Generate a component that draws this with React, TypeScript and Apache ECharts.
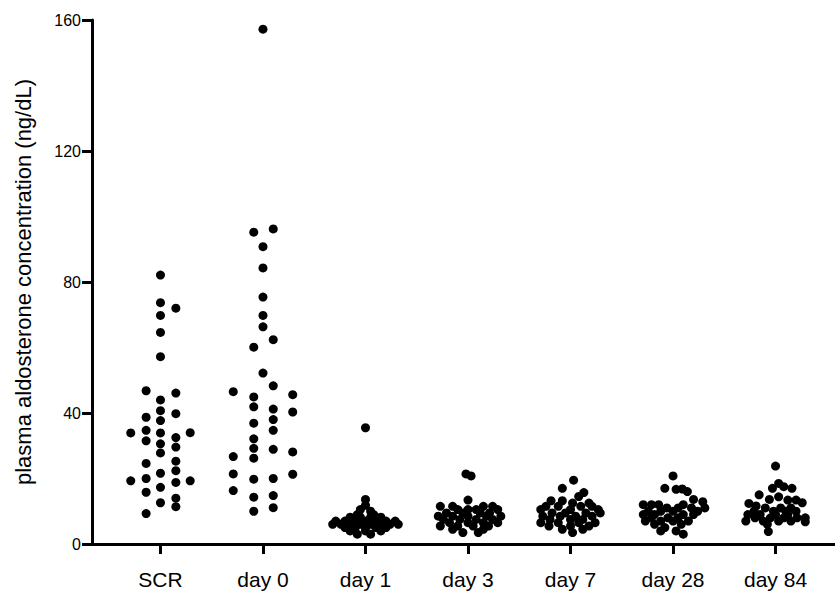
import React, { useEffect, useRef } from "react";
import * as echarts from "echarts";

const CATEGORIES = ["SCR", "day 0", "day 1", "day 3", "day 7", "day 28", "day 84"];
const Y_TICKS = [0, 40, 80, 120, 160];

// each point: [horizontal jitter within the group (fraction of category width), concentration ng/dL]
const SCR: number[][] = [
  [0, 82.1], [0, 73.7], [0, 69.8], [0, 64.6], [0, 57.2], [0, 44.0], [0, 40.7], [0, 37.7], [0, 33.9], [0, 30.6], [0, 27.8], [0, 21.6], [0, 17.3], [0, 12.6],
  [0.15, 72.0], [0.15, 46.1], [0.15, 39.8], [0.15, 32.5], [0.15, 29.6], [0.15, 25.3], [0.15, 22.4], [0.15, 18.8], [0.15, 14.0], [0.15, 11.4],
  [-0.14, 46.8], [-0.14, 38.7], [-0.14, 34.7], [-0.14, 31.5], [-0.14, 24.6], [-0.14, 20.0], [-0.14, 15.8], [-0.14, 9.3],
  [-0.29, 33.9], [-0.29, 19.3], [0.29, 34.0], [0.29, 19.3],
];

const DAY0: number[][] = [
  [0, 157.2], [0, 90.8], [0, 84.3], [0, 75.4], [0, 69.8], [0, 66.3], [0, 52.2],
  [-0.09, 95.2], [0.1, 96.2],
  [0.1, 62.4], [0.1, 48.3], [0.1, 41.2], [0.1, 38.0], [0.1, 34.7], [0.1, 28.9], [0.1, 20.0], [0.1, 14.8], [0.1, 11.1],
  [-0.09, 60.1], [-0.09, 44.9], [-0.09, 41.9], [-0.09, 36.9], [-0.09, 32.1], [-0.09, 29.2], [-0.09, 26.2], [-0.09, 19.8], [-0.09, 14.3], [-0.09, 10.0],
  [-0.29, 46.5], [-0.29, 26.7], [-0.29, 21.4], [-0.29, 16.3],
  [0.29, 45.6], [0.29, 40.3], [0.29, 28.1], [0.29, 21.3],
];

const DAY1: number[][] = [
  [0, 35.5], [0, 13.6], [0, 11.8], [-0.05, 10.5], [0.05, 10], [-0.08, 9], [0.08, 9],
  [-0.15, 8.2], [-0.05, 8.2], [0.05, 8.2], [0.15, 8.2],
  [-0.29, 7], [-0.2, 7], [-0.1, 7], [0, 7], [0.1, 7], [0.2, 7], [0.29, 7],
  [-0.32, 6], [-0.24, 6], [-0.15, 6], [-0.05, 6], [0.05, 6], [0.15, 6], [0.24, 6], [0.32, 6],
  [-0.2, 5], [-0.1, 5], [0, 5], [0.1, 5], [0.2, 5],
  [-0.15, 4], [0, 4], [0.15, 4],
  [-0.08, 3], [0.05, 3],
];

const DAY3: number[][] = [
  [-0.02, 21.4], [0.03, 20.8], [0, 13.4],
  [-0.27, 11.5], [-0.15, 11.5], [0.15, 11.5], [0.24, 11.5],
  [-0.1, 10.5], [0, 10.5], [0.08, 10.5], [0.29, 10.5],
  [-0.21, 9.5], [-0.05, 9.5], [0.12, 9.5], [0.21, 9.5],
  [-0.29, 8.5], [-0.15, 8.5], [0, 8.5], [0.18, 8.5], [0.32, 8.5],
  [-0.24, 7.5], [-0.08, 7.5], [0.08, 7.5], [0.24, 7.5],
  [-0.18, 6.5], [0, 6.5], [0.15, 6.5], [0.29, 6.5],
  [-0.27, 5.5], [-0.1, 5.5], [0.05, 5.5], [0.2, 5.5],
  [-0.15, 4.5], [0.15, 4.5],
  [-0.05, 3.5], [0.1, 3.5],
];

const DAY7: number[][] = [
  [0.03, 19.5], [-0.08, 17], [0.13, 15.7], [0.08, 14.5],
  [-0.19, 13.2], [-0.08, 13.2],
  [0.02, 12.5], [0.18, 12.5],
  [-0.24, 11.5], [-0.12, 11.5], [0.1, 11.5], [0.21, 11.5],
  [-0.29, 10.5], [0, 10.5], [0.27, 10.5],
  [-0.18, 9.5], [-0.05, 9.5], [0.15, 9.5], [0.29, 9.5],
  [-0.27, 8.5], [-0.1, 8.5], [0.05, 8.5], [0.21, 8.5],
  [-0.2, 7.5], [0, 7.5], [0.12, 7.5],
  [-0.29, 6.5], [-0.12, 6.5], [0.08, 6.5], [0.24, 6.5],
  [-0.21, 5.5], [0, 5.5], [0.18, 5.5],
  [-0.08, 4.5], [0.12, 4.5],
  [0.02, 3.5],
];

const DAY28: number[][] = [
  [0, 20.8], [-0.08, 17], [0.03, 16.7], [0.09, 16.8], [0.14, 16],
  [0.2, 13.6], [0.29, 12.9],
  [-0.29, 12], [-0.21, 12], [-0.14, 12], [0.1, 12],
  [-0.06, 11], [0.05, 11], [0.18, 11], [0.31, 11],
  [-0.24, 10], [-0.12, 10], [0, 10], [0.24, 10],
  [-0.29, 9], [-0.18, 9], [0.1, 9], [0.2, 9],
  [-0.21, 8], [-0.05, 8], [0.05, 8],
  [-0.27, 7], [-0.12, 7], [0, 7], [0.15, 7],
  [-0.18, 6], [0.08, 6],
  [-0.08, 5],
  [-0.12, 4], [0.03, 4],
  [0.1, 3],
];

const DAY84: number[][] = [
  [0, 23.8], [0.03, 18.5], [0.08, 17.5], [-0.03, 17], [0.16, 17],
  [-0.16, 15], [0.03, 14.4],
  [-0.06, 13.6], [0.12, 13.4], [0.2, 13.4],
  [-0.26, 12.4], [-0.19, 11.6], [0.26, 12.6],
  [-0.1, 11], [0.05, 11], [0.15, 11],
  [-0.21, 10], [-0.02, 10], [0.1, 10], [0.2, 10],
  [-0.27, 9], [-0.15, 9], [0, 9], [0.12, 9],
  [-0.2, 8], [-0.05, 8], [0.08, 8], [0.21, 8], [0.29, 8],
  [-0.29, 7], [-0.12, 7], [0.03, 7], [0.15, 7],
  [-0.08, 6], [0.29, 6.8],
  [-0.07, 3.8],
];

const GROUPS = [SCR, DAY0, DAY1, DAY3, DAY7, DAY28, DAY84];

const FONT = "'Liberation Sans', Arial, Helvetica, sans-serif";

export default function App() {
  const ref = useRef<HTMLDivElement>(null);

  useEffect(() => {
    if (!ref.current) return;
    const chart = echarts.init(ref.current, null, { renderer: "svg" });
    const catIdx = CATEGORIES.map((_, i) => i);
    const series = GROUPS.map((g, gi) => ({
      type: "scatter",
      name: CATEGORIES[gi],
      symbol: "circle",
      symbolSize: 9,
      itemStyle: { color: "#000", opacity: 1 },
      emphasis: { disabled: true },
      data: g.map(([j, v]) => [gi + j, v]),
    }));
    chart.setOption({
      animation: false,
      backgroundColor: "#fff",
      textStyle: { fontFamily: FONT },
      grid: {
        left: 92,
        right: 0,
        top: 20,
        bottom: 56,
        containLabel: false,
        outerBoundsMode: "none",
      },
      xAxis: {
        type: "value",
        min: -0.668,
        max: 6.58,
        splitLine: { show: false },
        axisLine: { show: true, onZero: false, lineStyle: { color: "#000", width: 3 } },
        axisTick: {
          show: true,
          customValues: catIdx,
          length: 10,
          lineStyle: { color: "#000", width: 3 },
        },
        axisLabel: {
          show: true,
          customValues: catIdx,
          formatter: (v: number) => CATEGORIES[Math.round(v)] ?? "",
          color: "#000",
          fontSize: 21,
          fontFamily: FONT,
          margin: 25,
        },
      },
      yAxis: {
        type: "value",
        min: Y_TICKS[0],
        max: Y_TICKS[Y_TICKS.length - 1],
        interval: 40,
        name: "plasma aldosterone concentration (ng/dL)",
        nameLocation: "middle",
        nameGap: 58,
        nameTextStyle: { color: "#000", fontSize: 22, fontFamily: FONT },
        splitLine: { show: false },
        axisLine: { show: true, onZero: false, lineStyle: { color: "#000", width: 3 } },
        axisTick: { show: true, length: 10, lineStyle: { color: "#000", width: 3 } },
        axisLabel: { color: "#000", fontSize: 16, fontFamily: FONT, margin: 11 },
      },
      series,
    });
    return () => chart.dispose();
  }, []);

  return (
    <div
      ref={ref}
      style={{ position: "absolute", left: 0, top: 0, width: 835, height: 600 }}
    />
  );
}
